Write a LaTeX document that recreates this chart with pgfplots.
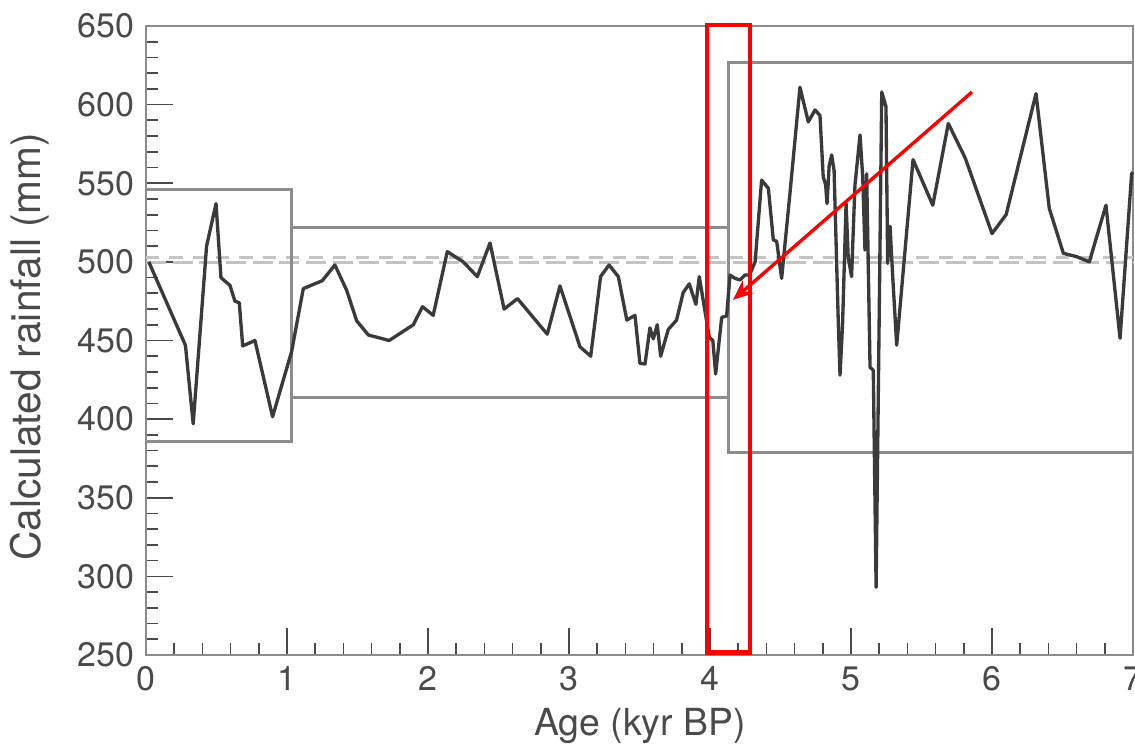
\documentclass[border=0pt]{standalone}
\usepackage{fontspec}
\setmainfont{TeX Gyre Heros}
\usepackage{pgfplots}
\pgfplotsset{compat=1.18}
\usetikzlibrary{arrows.meta}
\definecolor{dataline}{HTML}{3A3A3A}
\definecolor{boxgray}{HTML}{8C8C8C}
\definecolor{meangray}{HTML}{C4C4C4}
\definecolor{textgray}{HTML}{4A4A4A}
\definecolor{annred}{HTML}{FF0000}
\begin{document}
\begin{tikzpicture}
\begin{axis}[
  scale only axis,
  width=296.1pt, height=188.7pt,
  xmin=0, xmax=7, ymin=250, ymax=650,
  xtick={0,1,...,7}, ytick={250,300,...,650},
  minor x tick num=4, minor y tick num=4,
  xtick pos=left, ytick pos=left,
  tick align=inside,
  major tick length=8pt, minor tick length=3.5pt,
  axis line style={boxgray, line width=0.6pt},
  every tick/.style={textgray, line width=0.5pt},
  /pgf/number format/assume math mode=true,
  tick label style={font=\fontsize{10.2}{12}\selectfont, text=textgray},
  xlabel={Age (kyr BP)}, ylabel={Calculated rainfall (mm)},
  xlabel style={at={(rel axis cs:0.5005,-0.113)}, anchor=center, font=\fontsize{11.2}{13}\selectfont, text=textgray},
  ylabel style={at={(rel axis cs:-0.1175,0.49)}, anchor=center, font=\fontsize{12.2}{14}\selectfont, text=textgray},
  clip=false,
]
% mean lines
\addplot[meangray, line width=0.9pt, dash pattern=on 6pt off 2pt] coordinates {(0,499.5) (7,499.5)};
\addplot[meangray, line width=0.9pt, dash pattern=on 4pt off 3pt] coordinates {(0,502.5) (7,502.5)};
% boxes
\addplot[boxgray, line width=0.9pt] coordinates {(0,546) (1.035,546) (1.035,386) (0,386)};
\addplot[boxgray, line width=0.9pt] coordinates {(1.035,522) (4.128,522)};
\addplot[boxgray, line width=0.9pt] coordinates {(1.035,413.5) (4.128,413.5)};
\addplot[boxgray, line width=0.9pt] coordinates {(7,627) (4.128,627) (4.128,378.5) (7,378.5)};
% data
\addplot[dataline, line width=1pt, line join=round] coordinates {
(0.02,500) (0.28,447) (0.335,397) (0.43,510) (0.497,537) (0.532,490) (0.596,485)
(0.631,475) (0.662,474) (0.686,446.5) (0.773,450) (0.898,401.5) (1.033,443)
(1.116,483) (1.25,488) (1.34,498) (1.423,482) (1.494,462.6) (1.577,453.5)
(1.725,450) (1.896,460) (1.961,471.5) (2.037,466) (2.137,506.5) (2.25,500)
(2.35,490.6) (2.44,512) (2.54,470) (2.635,476.6) (2.846,454) (2.936,484.7)
(3.078,446) (3.154,440) (3.224,490.6) (3.284,498) (3.35,490.6) (3.41,463)
(3.468,466) (3.503,435.5) (3.539,435) (3.574,458) (3.598,451) (3.626,460)
(3.65,440) (3.704,457) (3.763,463) (3.81,480.5) (3.853,486) (3.9,473)
(3.924,490.6) (3.995,452) (4.02,450) (4.04,428.7) (4.083,464.7) (4.118,465.6)
(4.142,491.6) (4.177,489.5) (4.213,488.5) (4.248,491.6) (4.28,491.6) (4.32,500)
(4.366,552) (4.414,546.7) (4.449,514) (4.473,513) (4.508,489.5) (4.567,543.5)
(4.638,611) (4.697,589) (4.745,596.6) (4.78,593) (4.803,554) (4.82,549)
(4.83,537) (4.845,561) (4.863,568) (4.88,558) (4.91,461) (4.922,428)
(4.94,460) (4.965,537) (4.98,503) (5.004,490.6) (5.028,548.8) (5.064,580.7)
(5.083,554) (5.099,507.5) (5.111,556) (5.135,433) (5.158,431) (5.178,293)
(5.218,608) (5.248,598.7) (5.26,499) (5.277,522.6) (5.293,495) (5.324,447)
(5.371,495) (5.44,565) (5.58,536) (5.69,588) (5.81,566) (6.0,518)
(6.1,530) (6.312,607) (6.406,534) (6.506,505.4) (6.6,503.3) (6.69,500)
(6.808,536) (6.908,451.4) (6.99,556) (7.0,557)
};
% annotation
\draw[annred, line width=1.3pt] (axis cs:3.979,251.5) rectangle (axis cs:4.284,650.5);
\draw[annred, line width=1pt, -{Stealth[length=6pt,width=5pt]}] (axis cs:5.858,608) -- (axis cs:4.163,475.8);
\coordinate (bl) at (axis cs:-1.035,193.4);
\coordinate (tr) at (axis cs:7.014,666.5);
\end{axis}
\pgfresetboundingbox
\useasboundingbox (bl) rectangle (tr);
\end{tikzpicture}
\end{document}
